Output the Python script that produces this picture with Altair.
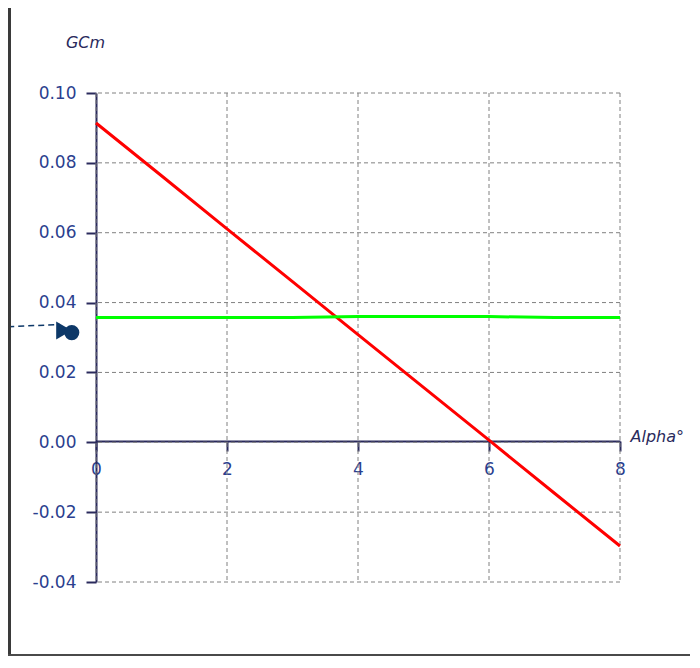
import altair as alt
import pandas as pd

# ---- data ----
alpha = [0, 1, 2, 3, 4, 5, 6, 7, 8]
gcm_red = [0.0914, 0.0763, 0.0611, 0.0460, 0.0308, 0.0157, 0.0006, -0.0146, -0.0297]
gcm_green = [0.0357, 0.0357, 0.0357, 0.0357, 0.0360, 0.0360, 0.0360, 0.0357, 0.0357]

x_ticks = [0, 2, 4, 6, 8]
y_ticks = [-0.04, -0.02, 0.0, 0.02, 0.04, 0.06, 0.08, 0.10]

# pointer annotation on the left (data units)
ptr_line_x = [-1.34, -0.55]
ptr_line_y = [0.0331, 0.0337]
ptr_head_x = [-0.37]
ptr_head_y = [0.0314]
ptr_tri_x = [-0.49]
ptr_tri_y = [0.0320]

W, H = 524, 489
PAD = {"left": 88, "top": 85, "right": 70, "bottom": 74}

xs = alt.Scale(domain=[0, 8], nice=False, zero=False)
ys = alt.Scale(domain=[-0.04, 0.10], nice=False, zero=False)

FONT = "DejaVu Sans"
LABEL_COL = "#2b3f8f"
AXIS_COL = "#2a2a5c"
GRID_COL = "#808080"

lines_df = pd.DataFrame(
    {"alpha": alpha * 2,
     "gcm": gcm_red + gcm_green,
     "series": ["red"] * len(alpha) + ["green"] * len(alpha)}
)

vgrid = alt.Chart(pd.DataFrame({"x": x_ticks})).mark_rule(
    color=GRID_COL, strokeDash=[4, 3], strokeWidth=1
).encode(x=alt.X("x:Q", scale=xs))

hgrid = alt.Chart(pd.DataFrame({"y": y_ticks})).mark_rule(
    color=GRID_COL, strokeDash=[4, 3], strokeWidth=1
).encode(y=alt.Y("y:Q", scale=ys))

x_axis = alt.Axis(
    values=x_ticks, format="d", grid=False, offset=-141,
    domainColor=AXIS_COL, domainWidth=2, tickColor=AXIS_COL, tickWidth=2,
    tickSize=10, labelPadding=10, labelFont=FONT, labelFontSize=17,
    labelColor=LABEL_COL, labelFlush=False,
    title="Alpha°", titleFont=FONT, titleFontSize=16, titleFontStyle="italic",
    titleFontWeight="normal", titleColor=AXIS_COL, titleAnchor="start",
    titleAlign="left", titleBaseline="middle", titleX=534, titleY=-5,
)
y_axis = alt.Axis(
    values=y_ticks, grid=False,
    labelExpr="datum.value < 0 ? '-' + format(-datum.value, '.2f') : format(datum.value, '.2f')",
    domainColor=AXIS_COL, domainWidth=2, tickColor=AXIS_COL, tickWidth=2,
    tickSize=10, labelPadding=10, labelFont=FONT, labelFontSize=17,
    labelColor=LABEL_COL, labelFlush=False,
    title="GCm", titleFont=FONT, titleFontSize=16, titleFontStyle="italic",
    titleFontWeight="normal", titleColor=AXIS_COL, titleAngle=0,
    titleAlign="center", titleBaseline="middle", titleX=-11, titleY=-51,
)

lines = alt.Chart(lines_df).mark_line(strokeWidth=3, clip=False).encode(
    x=alt.X("alpha:Q", scale=xs, axis=x_axis),
    y=alt.Y("gcm:Q", scale=ys, axis=y_axis),
    color=alt.Color("series:N",
                    scale=alt.Scale(domain=["red", "green"], range=["#ff0000", "#00ff00"]),
                    legend=None),
)

PTR_COL = "#0d3868"
ptr_line = alt.Chart(pd.DataFrame({"x": ptr_line_x, "y": ptr_line_y})).mark_line(
    color=PTR_COL, strokeDash=[6, 4], strokeWidth=1.5, clip=False
).encode(x=alt.X("x:Q", scale=xs), y=alt.Y("y:Q", scale=ys))
ptr_tri = alt.Chart(pd.DataFrame({"x": ptr_tri_x, "y": ptr_tri_y})).mark_point(
    shape="triangle-right", filled=True, color=PTR_COL, size=320, opacity=1, clip=False
).encode(x=alt.X("x:Q", scale=xs), y=alt.Y("y:Q", scale=ys))
ptr_head = alt.Chart(pd.DataFrame({"x": ptr_head_x, "y": ptr_head_y})).mark_circle(
    color=PTR_COL, size=230, opacity=1, clip=False
).encode(x=alt.X("x:Q", scale=xs), y=alt.Y("y:Q", scale=ys))

# window frame (left and bottom dark border)
frame_left = alt.Chart(pd.DataFrame({"a": [0]})).mark_rule(
    color="#3a3a3a", strokeWidth=3
).encode(x=alt.value(-86.5), y=alt.value(-85), y2=alt.value(H + PAD["bottom"]))
frame_bottom = alt.Chart(pd.DataFrame({"a": [0]})).mark_rule(
    color="#4a4a4a", strokeWidth=2
).encode(x=alt.value(-88), x2=alt.value(W + PAD["right"]), y=alt.value(H + PAD["bottom"] - 1))

chart = alt.layer(
    vgrid, hgrid, lines, ptr_line, ptr_tri, ptr_head, frame_left, frame_bottom
).properties(
    width=W, height=H,
    padding=PAD,
    autosize=alt.AutoSizeParams(type="none"),
    background="white",
).configure_view(stroke=None)

chart.save("out.html", embed_options={"renderer": "svg", "actions": False})
